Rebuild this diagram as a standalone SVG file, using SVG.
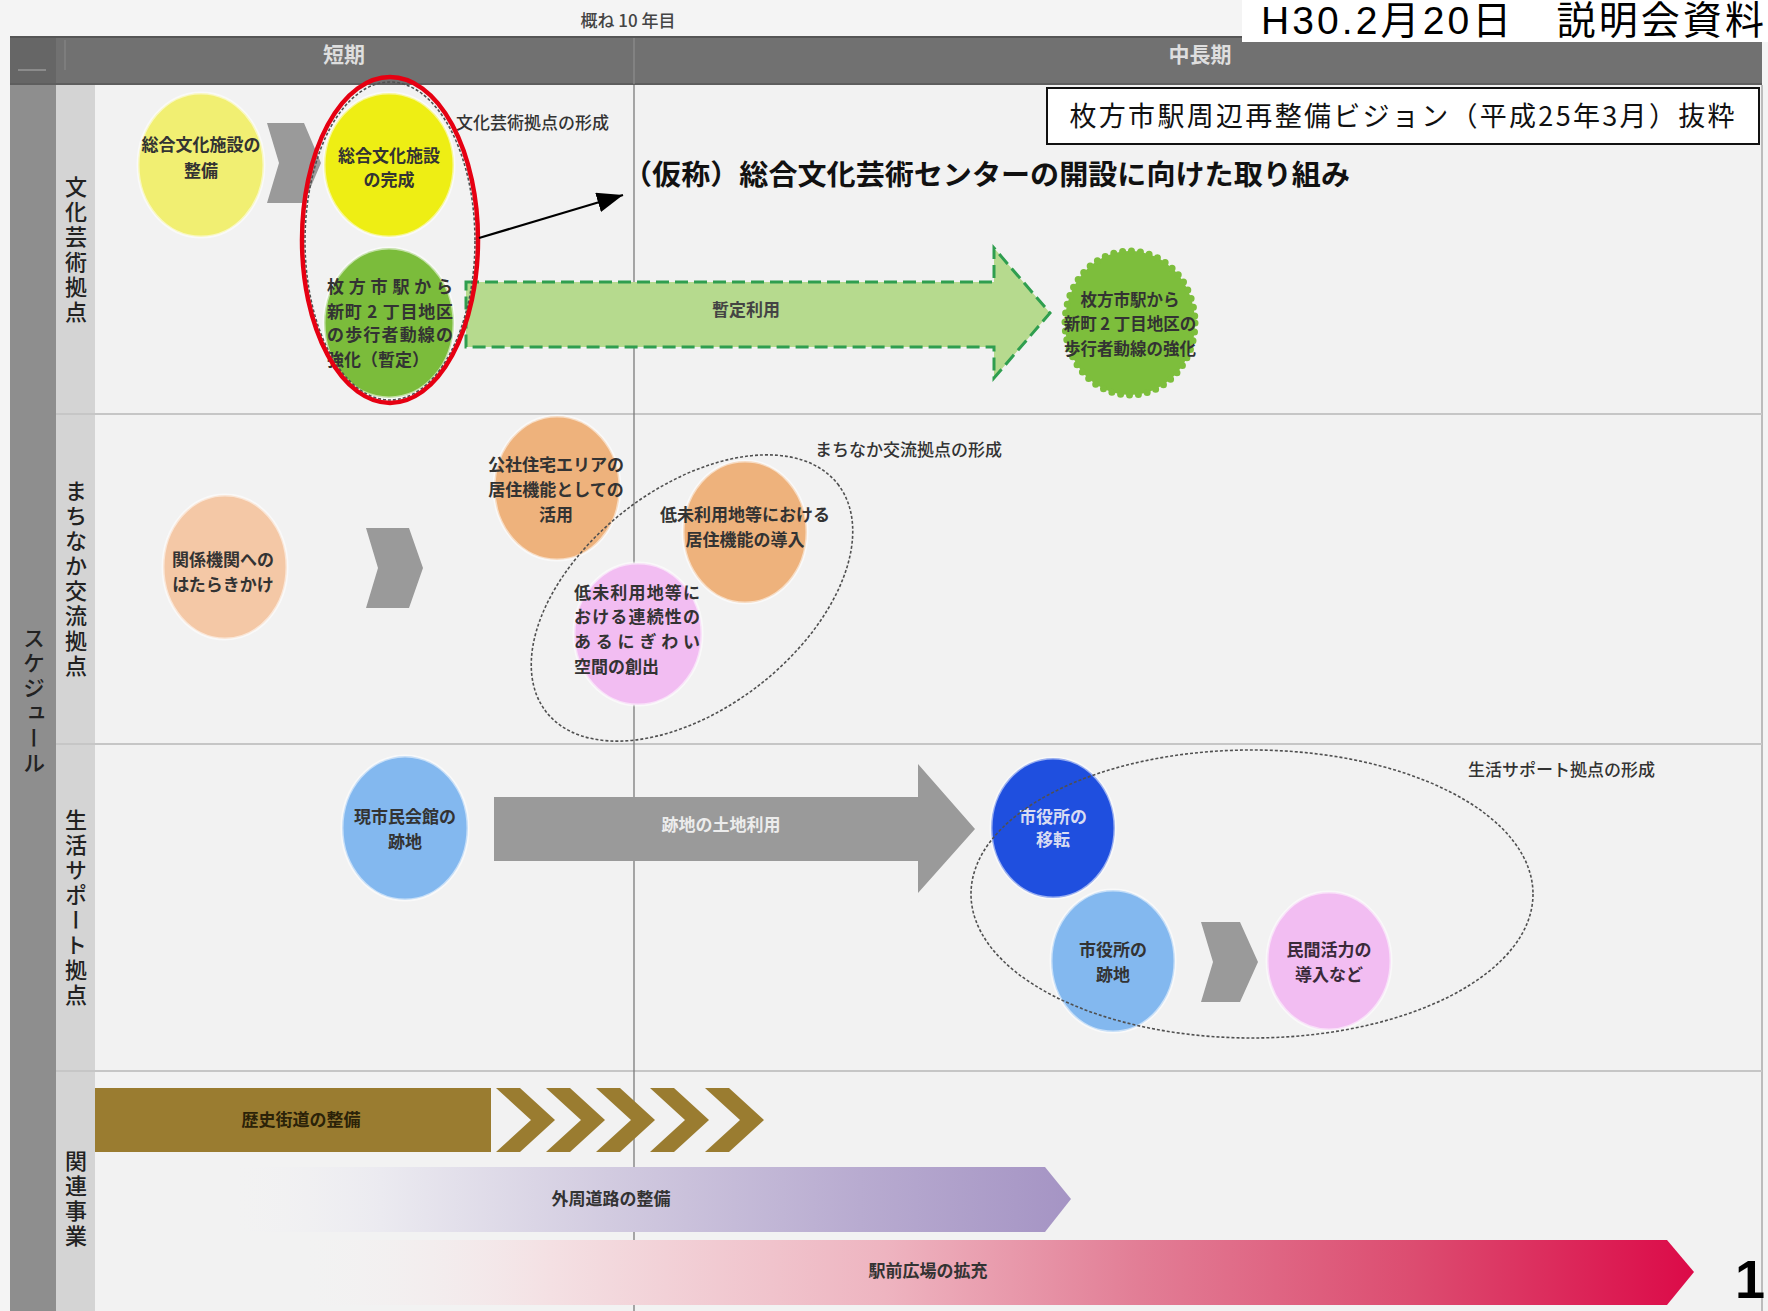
<svg xmlns="http://www.w3.org/2000/svg" width="1768" height="1311" viewBox="0 0 1768 1311">
<style>
text { font-family: "Noto Sans CJK JP", "Noto Sans CJK SC", sans-serif; }
.lbl { font-size: 17px; font-weight: bold; fill: #333; text-anchor: middle; }
.lbl-l { font-size: 17px; font-weight: bold; fill: #333; }
.note { font-size: 17px; fill: #333; font-weight: 500; }
.vlab { font-size: 22px; fill: #222; writing-mode: vertical-rl; text-anchor: middle; letter-spacing: 3px; font-weight: 500; }
.hdr { font-size: 21px; fill: #dedede; text-anchor: middle; font-weight: bold; }
.c { stroke: #ffffff; stroke-opacity: 0.55; stroke-width: 3; }
.chev { fill: #9a9a9a; }
.gold { fill: #9a7c30; }
.grp { fill: none; stroke: #505050; stroke-width: 1.6; stroke-dasharray: 3 2; }
.sep { stroke: #c6c6c6; stroke-width: 2; }
</style>
<defs>
<marker id="ah" markerWidth="26" markerHeight="20" refX="26" refY="10" orient="auto" markerUnits="userSpaceOnUse">
<path d="M0,0 L26,10 L0,20 z" fill="#000"/>
</marker>
<linearGradient id="gPurple" gradientUnits="userSpaceOnUse" x1="230" y1="0" x2="1071" y2="0">
<stop offset="0" stop-color="#f2f2f4" stop-opacity="0"/>
<stop offset="0.18" stop-color="#ebeaf0"/>
<stop offset="0.45" stop-color="#d2cbe0"/>
<stop offset="0.75" stop-color="#b8abd0"/>
<stop offset="1" stop-color="#a594c4"/>
</linearGradient>
<linearGradient id="gPink" gradientUnits="userSpaceOnUse" x1="300" y1="0" x2="1694" y2="0">
<stop offset="0" stop-color="#f4f2f2" stop-opacity="0"/>
<stop offset="0.18" stop-color="#f4e0e3"/>
<stop offset="0.42" stop-color="#eeb4c0"/>
<stop offset="0.6" stop-color="#e27e96"/>
<stop offset="0.8" stop-color="#dc4c70"/>
<stop offset="1" stop-color="#dc0a48"/>
</linearGradient>
</defs>

<!-- backgrounds -->
<g id="background">
<rect x="0" y="0" width="1768" height="1311" fill="#f4f4f4"/>
<rect x="95" y="85" width="1667" height="1226" fill="#f2f2f2"/>
<rect x="10" y="85" width="46" height="1226" fill="#8e8e8e"/>
<rect x="56" y="85" width="39" height="1226" fill="#d4d4d4"/>
<line x1="1762" y1="85" x2="1762" y2="1311" stroke="#aaaaaa" stroke-width="1.5"/>
<line class="sep" x1="56" y1="414" x2="1762" y2="414"/>
<line class="sep" x1="56" y1="744" x2="1762" y2="744"/>
<line class="sep" x1="56" y1="1071" x2="1762" y2="1071"/>
<line x1="634" y1="85" x2="634" y2="1311" stroke="#7a7a7a" stroke-width="1.3"/>
</g>

<!-- header -->
<g id="header">
<rect x="10" y="36" width="1752" height="49" fill="#717171"/>
<rect x="10" y="36" width="46" height="49" fill="#666666"/>
<line x1="10" y1="37" x2="1762" y2="37" stroke="#555" stroke-width="2"/>
<line x1="10" y1="84" x2="1762" y2="84" stroke="#5e5e5e" stroke-width="2"/>
<line x1="18" y1="70" x2="46" y2="70" stroke="#999" stroke-width="1.5"/>
<line x1="65" y1="40" x2="65" y2="70" stroke="#8a8a8a" stroke-width="1"/>
<line x1="634" y1="38" x2="634" y2="84" stroke="#8c8c8c" stroke-width="1.3"/>
<text class="hdr" x="344" y="62">短期</text>
<text class="hdr" x="1200" y="62">中長期</text>
<text x="628" y="27" font-size="17" fill="#444" text-anchor="middle" font-weight="500">概ね 10 年目</text>
</g>

<g id="date-box">
<rect x="1242" y="0" width="526" height="42" fill="#ffffff"/>
<text x="1261" y="34" font-size="39" fill="#000" textLength="503" lengthAdjust="spacing" style="font-family:'Liberation Sans','Noto Sans CJK JP',sans-serif">H30.2月20日　説明会資料</text>
</g>

<!-- side labels -->
<g id="side-labels">
<text class="vlab" x="34" y="702">スケジュール</text>
<text class="vlab" x="76" y="251">文化芸術拠点</text>
<text class="vlab" x="76" y="580">まちなか交流拠点</text>
<text class="vlab" x="76" y="909">生活サポート拠点</text>
<text class="vlab" x="76" y="1200">関連事業</text>
</g>

<!-- Row 1 -->
<g id="arrow-zantei">
<polygon points="466,282 994,282 994,248 1050,313 994,378 994,347 466,347" fill="#b6da8e" stroke="#2f9e4f" stroke-width="3" stroke-dasharray="13 6"/>
<text x="746" y="316" font-size="17" fill="#444" text-anchor="middle" font-weight="bold">暫定利用</text>
</g>
<g id="node-seibi">
<ellipse class="c" cx="201" cy="165" rx="63" ry="72" fill="#f1ef72"/>
<text class="lbl" x="201" y="151">総合文化施設の</text>
<text class="lbl" x="201" y="177">整備</text>
</g>
<g id="chevron-1">
<polygon class="chev" points="267,123 304,123 321,163 304,203 267,203 279,163"/>
</g>
<g id="node-kansei">
<ellipse class="c" cx="389" cy="165" rx="65" ry="72" fill="#eeee14"/>
<text class="lbl" x="389" y="162">総合文化施設</text>
<text class="lbl" x="389" y="186">の完成</text>
</g>
<g id="node-hokousha-zantei">
<ellipse class="c" cx="389" cy="323" rx="65" ry="75" fill="#7bbc3b"/>
<text class="lbl-l" x="327" y="293" textLength="126" lengthAdjust="spacing">枚方市駅から</text>
<text class="lbl-l" x="327" y="318" textLength="126" lengthAdjust="spacing">新町 2 丁目地区</text>
<text class="lbl-l" x="327" y="341" textLength="126" lengthAdjust="spacing">の歩行者動線の</text>
<text class="lbl-l" x="327" y="366">強化（暫定）</text>
</g>
<g id="group-bunka">
<ellipse class="grp" cx="390" cy="241" rx="85" ry="159"/>
<text class="note" x="456" y="129">文化芸術拠点の形成</text>
</g>
<g id="highlight">
<ellipse cx="390" cy="240" rx="88" ry="163" fill="none" stroke="#e60012" stroke-width="4.5"/>
</g>
<g id="node-hokousha">
<ellipse cx="1130" cy="323" rx="65" ry="72" fill="#7dbe3c" stroke="#7dbe3c" stroke-width="7" stroke-linecap="round" stroke-dasharray="0 9"/>
<text class="lbl" x="1130" y="306" style="font-size:16.5px">枚方市駅から</text>
<text class="lbl" x="1130" y="330" style="font-size:16.5px">新町 2 丁目地区の</text>
<text class="lbl" x="1130" y="355" style="font-size:16.5px">歩行者動線の強化</text>
</g>
<g id="callout">
<text x="623" y="185" font-size="28" font-weight="bold" fill="#111" textLength="727" lengthAdjust="spacingAndGlyphs">（仮称）総合文化芸術センターの開設に向けた取り組み</text>
</g>
<g id="source-box">
<rect x="1047" y="88" width="712" height="56" fill="#ffffff" stroke="#111" stroke-width="2"/>
<text x="1402" y="126" font-size="27" fill="#111" text-anchor="middle" textLength="665" lengthAdjust="spacing">枚方市駅周辺再整備ビジョン（平成25年3月）抜粋</text>
</g>

<!-- Row 2 -->
<g id="node-hatarakikake">
<ellipse class="c" cx="225" cy="567" rx="62" ry="72" fill="#f4c8a6"/>
<text class="lbl" x="223" y="566">関係機関への</text>
<text class="lbl" x="223" y="591">はたらきかけ</text>
</g>
<g id="chevron-2">
<polygon class="chev" points="366,528 409,528 423,568 409,608 366,608 378,568"/>
</g>
<g id="node-kousha">
<ellipse class="c" cx="557" cy="488" rx="63" ry="72" fill="#eeb27c"/>
<text class="lbl" x="556" y="471">公社住宅エリアの</text>
<text class="lbl" x="556" y="496">居住機能としての</text>
<text class="lbl" x="556" y="521">活用</text>
</g>
<g id="node-kyojuu">
<ellipse class="c" cx="745" cy="532" rx="62" ry="71" fill="#eeb27c"/>
<text class="lbl" x="745" y="521">低未利用地等における</text>
<text class="lbl" x="745" y="546">居住機能の導入</text>
</g>
<g id="node-nigiwai">
<ellipse class="c" cx="638" cy="634" rx="64" ry="71" fill="#f2bdf2"/>
<text class="lbl-l" x="574" y="599" textLength="126" lengthAdjust="spacing">低未利用地等に</text>
<text class="lbl-l" x="574" y="623" textLength="126" lengthAdjust="spacing">おける連続性の</text>
<text class="lbl-l" x="574" y="648" textLength="126" lengthAdjust="spacing">あるにぎわい</text>
<text class="lbl-l" x="574" y="673">空間の創出</text>
</g>
<g id="group-machinaka">
<ellipse class="grp" cx="692" cy="598" rx="185" ry="110" transform="rotate(-38 692 598)"/>
<text class="note" x="815" y="456">まちなか交流拠点の形成</text>
</g>

<!-- Row 3 -->
<g id="node-shiminkaikan">
<ellipse class="c" cx="405" cy="828" rx="63" ry="72" fill="#83b8ef"/>
<text class="lbl" x="405" y="823">現市民会館の</text>
<text class="lbl" x="405" y="848">跡地</text>
</g>
<g id="arrow-tochiriyou">
<polygon points="494,797 918,797 918,764 975,829 918,893 918,861 494,861" fill="#9a9a9a"/>
<text x="721" y="831" font-size="17" fill="#ececec" text-anchor="middle" font-weight="bold">跡地の土地利用</text>
</g>
<g id="node-iten">
<ellipse class="c" cx="1053" cy="828" rx="62" ry="70" fill="#1f4fdf"/>
<text class="lbl" x="1053" y="823" style="fill:#d8dcf2">市役所の</text>
<text class="lbl" x="1053" y="846" style="fill:#d8dcf2">移転</text>
</g>
<g id="node-shiyakusho-atochi">
<ellipse class="c" cx="1113" cy="961" rx="62" ry="71" fill="#83b8ef"/>
<text class="lbl" x="1113" y="956">市役所の</text>
<text class="lbl" x="1113" y="981">跡地</text>
</g>
<g id="chevron-3">
<polygon class="chev" points="1201,922 1240,922 1258,962 1240,1002 1201,1002 1213,962"/>
</g>
<g id="node-minkan">
<ellipse class="c" cx="1329" cy="961" rx="62" ry="69" fill="#f2bdf2"/>
<text class="lbl" x="1329" y="956" style="fill:#3a2a3a">民間活力の</text>
<text class="lbl" x="1329" y="981" style="fill:#3a2a3a">導入など</text>
</g>
<g id="group-seikatsu">
<ellipse class="grp" cx="1252" cy="894" rx="281" ry="144"/>
<text class="note" x="1468" y="776">生活サポート拠点の形成</text>
</g>

<!-- Row 4 -->
<g id="bar-rekishi">
<rect class="gold" x="95" y="1088" width="396" height="64"/>
<polygon class="gold" points="496,1088 520,1088 555,1120 520,1152 496,1152 531,1120"/>
<polygon class="gold" points="546,1088 570,1088 605,1120 570,1152 546,1152 581,1120"/>
<polygon class="gold" points="596,1088 620,1088 655,1120 620,1152 596,1152 631,1120"/>
<polygon class="gold" points="650,1088 674,1088 709,1120 674,1152 650,1152 685,1120"/>
<polygon class="gold" points="705,1088 729,1088 764,1120 729,1152 705,1152 740,1120"/>
<text x="301" y="1126" font-size="17" fill="#2b2208" text-anchor="middle" font-weight="bold">歴史街道の整備</text>
</g>
<g id="bar-gaishuu">
<polygon points="230,1167 1045,1167 1071,1199 1045,1232 230,1232" fill="url(#gPurple)"/>
<text x="611" y="1205" font-size="17" fill="#333" text-anchor="middle" font-weight="bold">外周道路の整備</text>
</g>
<g id="bar-ekimae">
<polygon points="300,1240 1667,1240 1694,1272 1667,1305 300,1305" fill="url(#gPink)"/>
<text x="928" y="1277" font-size="17" fill="#333" text-anchor="middle" font-weight="bold">駅前広場の拡充</text>
</g>

<!-- connectors -->
<g id="connectors">
<line x1="479" y1="238" x2="623" y2="195" stroke="#000" stroke-width="2.2" marker-end="url(#ah)"/>
</g>

<g id="page-number">
<text x="1735" y="1298" font-size="54" font-weight="bold" fill="#000" style="font-family:'Liberation Sans',sans-serif">1</text>
</g>
</svg>
